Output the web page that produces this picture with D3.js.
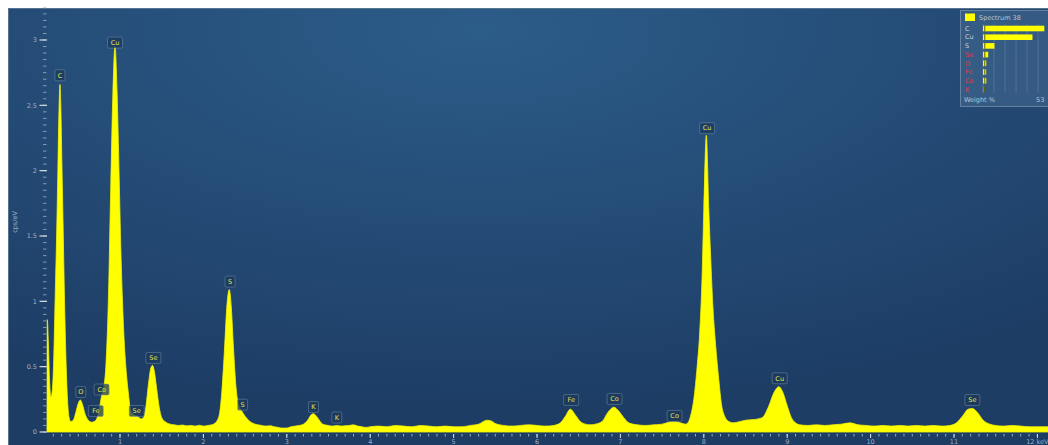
<!DOCTYPE html>
<html>
  <head>
    <meta charset="utf-8" />
    <title>EDS spectrum</title>
    <script src="https://d3js.org/d3.v7.min.js"></script>
    <style>
      body {
        margin: 0;
        background: #fff;
      }
      svg {
        display: block;
        font-family: "DejaVu Sans", sans-serif;
      }
      .tick-label {
        fill: #9fb1c4;
        font-size: 6.5px;
      }
      .peak-label text {
        fill: #e4e24a;
        font-size: 6.5px;
      }
      .legend text {
        font-size: 6.5px;
      }
    </style>
  </head>
  <body>
    <svg id="chart" width="1048" height="445"></svg>

    <script>
      // spectrum: [energy keV, cps/eV]
      const spectrum = [
        [0.125, 0], [0.128, 0.86], [0.14, 0.7], [0.155, 0.4], [0.17, 0.27],
        [0.185, 0.3], [0.205, 0.55], [0.225, 1.1], [0.24, 1.5], [0.255, 2.0],
        [0.27, 2.5], [0.28, 2.66], [0.29, 2.5], [0.305, 2.0], [0.32, 1.5],
        [0.335, 1.0], [0.355, 0.5], [0.375, 0.2], [0.39, 0.11], [0.41, 0.08],
        [0.44, 0.09], [0.47, 0.15], [0.5, 0.22], [0.525, 0.245], [0.55, 0.21],
        [0.58, 0.14], [0.62, 0.09], [0.66, 0.075], [0.69, 0.08], [0.72, 0.1],
        [0.75, 0.17], [0.78, 0.28], [0.81, 0.36], [0.83, 0.5], [0.86, 1.0],
        [0.89, 1.9], [0.915, 2.6], [0.94, 2.95], [0.965, 2.6], [0.99, 1.95],
        [1.01, 1.4], [1.03, 1.0], [1.05, 0.7], [1.07, 0.5], [1.1, 0.3],
        [1.13, 0.16], [1.17, 0.13], [1.21, 0.12], [1.25, 0.1], [1.28, 0.11],
        [1.31, 0.19], [1.34, 0.36], [1.37, 0.49], [1.39, 0.51], [1.41, 0.47],
        [1.44, 0.33], [1.47, 0.19], [1.5, 0.11], [1.55, 0.075], [1.6, 0.06],
        [1.65, 0.055], [1.7, 0.05], [1.75, 0.053], [1.8, 0.047], [1.85, 0.05],
        [1.9, 0.045], [1.95, 0.052], [2.0, 0.045], [2.05, 0.05], [2.1, 0.055],
        [2.15, 0.075], [2.19, 0.13], [2.22, 0.3], [2.25, 0.6], [2.28, 0.95],
        [2.31, 1.09], [2.335, 0.95], [2.36, 0.65], [2.39, 0.35], [2.42, 0.21],
        [2.46, 0.16], [2.5, 0.12], [2.55, 0.085], [2.6, 0.065], [2.65, 0.055],
        [2.7, 0.05], [2.75, 0.045], [2.8, 0.048], [2.85, 0.04], [2.9, 0.035],
        [2.95, 0.03], [3.0, 0.03], [3.05, 0.04], [3.1, 0.045], [3.15, 0.05],
        [3.2, 0.06], [3.25, 0.09], [3.29, 0.13], [3.32, 0.14], [3.35, 0.125],
        [3.39, 0.09], [3.43, 0.06], [3.5, 0.05], [3.55, 0.045], [3.6, 0.05],
        [3.65, 0.045], [3.7, 0.048], [3.75, 0.05], [3.8, 0.055], [3.85, 0.045],
        [3.9, 0.04], [3.95, 0.035], [4.0, 0.04], [4.1, 0.045], [4.2, 0.04],
        [4.3, 0.05], [4.4, 0.045], [4.5, 0.04], [4.6, 0.05], [4.7, 0.045],
        [4.8, 0.04], [4.9, 0.045], [5.0, 0.04], [5.1, 0.04], [5.2, 0.05],
        [5.3, 0.06], [5.4, 0.09], [5.45, 0.085], [5.5, 0.065], [5.6, 0.05],
        [5.7, 0.045], [5.8, 0.05], [5.9, 0.055], [6.0, 0.05], [6.1, 0.045],
        [6.2, 0.05], [6.28, 0.07], [6.34, 0.12], [6.4, 0.175], [6.46, 0.13],
        [6.52, 0.08], [6.58, 0.06], [6.64, 0.055], [6.7, 0.06], [6.78, 0.08],
        [6.85, 0.15], [6.92, 0.19], [6.98, 0.16], [7.04, 0.11], [7.1, 0.07],
        [7.2, 0.055], [7.3, 0.05], [7.4, 0.055], [7.5, 0.06], [7.58, 0.075],
        [7.65, 0.08], [7.72, 0.07], [7.78, 0.06], [7.81, 0.07], [7.84, 0.12],
        [7.88, 0.25], [7.92, 0.5], [7.95, 0.75], [7.98, 1.2], [8.0, 1.7],
        [8.03, 2.27], [8.06, 1.7], [8.085, 1.3], [8.11, 0.95], [8.14, 0.68],
        [8.18, 0.4], [8.21, 0.22], [8.25, 0.12], [8.3, 0.08], [8.35, 0.07],
        [8.4, 0.075], [8.5, 0.09], [8.6, 0.095], [8.7, 0.11], [8.78, 0.2],
        [8.84, 0.3], [8.9, 0.347], [8.95, 0.3], [9.0, 0.2], [9.05, 0.11],
        [9.1, 0.07], [9.15, 0.055], [9.25, 0.05], [9.35, 0.055], [9.45, 0.05],
        [9.55, 0.055], [9.65, 0.06], [9.75, 0.07], [9.85, 0.055], [9.95, 0.05],
        [10.05, 0.045], [10.15, 0.05], [10.25, 0.045], [10.35, 0.05], [10.45, 0.045],
        [10.55, 0.05], [10.65, 0.045], [10.75, 0.05], [10.85, 0.045], [10.95, 0.05],
        [11.03, 0.07], [11.1, 0.12], [11.17, 0.175], [11.22, 0.18], [11.28, 0.15],
        [11.35, 0.09], [11.43, 0.06], [11.5, 0.05], [11.6, 0.045], [11.7, 0.05],
        [11.8, 0.045], [11.9, 0.04], [12.0, 0.04], [12.15, 0.04]
      ];

      // peak labels: element, energy (keV), label height (cps/eV)
      const peakNames = ["C", "Cu", "O", "Fe", "Co", "Se", "Se", "S", "S", "K", "K",
                         "Fe", "Co", "Co", "Cu", "Cu", "Se"];
      const peakEnergies = [0.28, 0.94, 0.53, 0.71, 0.78, 1.2, 1.4, 2.32, 2.47, 3.32, 3.6,
                            6.41, 6.93, 7.65, 8.04, 8.91, 11.22];
      const peakLevels = [2.73, 2.98, 0.306, 0.161, 0.325, 0.161, 0.567, 1.151, 0.209, 0.191, 0.111,
                          0.245, 0.253, 0.123, 2.325, 0.411, 0.245];

      // axis ticks
      const xTickValues = [1, 2, 3, 4, 5, 6, 7, 8, 9, 10, 11, 12];
      const xTickLabels = ["1", "2", "3", "4", "5", "6", "7", "8", "9", "10", "11", "12 keV"];
      const yTickValues = [0, 0.5, 1, 1.5, 2, 2.5, 3];
      const yTickLabels = ["0", "0.5", "1", "1.5", "2", "2.5", "3"];

      // legend (weight %)
      const legendTitle = "Spectrum 38";
      const legendElements = ["C", "Cu", "S", "Se", "O", "Fe", "Co", "K"];
      const legendWeights = [44.5, 35.9, 8.3, 3.8, 2.4, 2.3, 2.4, 1.4];
      const legendRed = [false, false, false, true, true, true, true, true];

      const svg = d3.select("#chart");

      // scales
      const xScale = d3.scaleLinear().domain([0, 12]).range([36.6, 1037.4]);
      const yScale = d3.scaleLinear().domain([0, 3]).range([432, 40]);

      // background panel with a soft radial gradient
      const defs = svg.append("defs");
      const grad = defs
        .append("radialGradient")
        .attr("id", "bg")
        .attr("cx", "45%")
        .attr("cy", "5%")
        .attr("r", "85%");
      grad.append("stop").attr("offset", "0%").attr("stop-color", "#2c5c89");
      grad.append("stop").attr("offset", "100%").attr("stop-color", "#1d3d65");

      defs
        .append("filter")
        .attr("id", "soft")
        .append("feGaussianBlur")
        .attr("stdDeviation", 0.45);

      svg
        .append("rect")
        .attr("x", 8.5)
        .attr("y", 8.5)
        .attr("width", 1045)
        .attr("height", 445)
        .attr("fill", "url(#bg)")
        .attr("stroke", "#56738f")
        .attr("stroke-width", 1);

      // y ticks (minor every 0.05)
      const yMinor = d3.range(0, 3.3, 0.05);
      svg
        .append("g")
        .selectAll("line")
        .data(yMinor)
        .join("line")
        .attr("x1", 43)
        .attr("x2", 46.5)
        .attr("y1", (d) => yScale(d))
        .attr("y2", (d) => yScale(d))
        .attr("stroke", "#a9bccf")
        .attr("stroke-opacity", 0.7)
        .attr("stroke-width", 1);

      svg
        .append("g")
        .selectAll("line")
        .data(yTickValues)
        .join("line")
        .attr("x1", 39.5)
        .attr("x2", 47)
        .attr("y1", (d) => yScale(d))
        .attr("y2", (d) => yScale(d))
        .attr("stroke", "#d3dde7")
        .attr("stroke-width", 1.2);

      svg
        .append("g")
        .selectAll("text")
        .data(yTickValues)
        .join("text")
        .attr("class", "tick-label")
        .attr("x", 37)
        .attr("y", (d) => yScale(d))
        .attr("dy", "0.35em")
        .attr("text-anchor", "end")
        .text((d, i) => yTickLabels[i]);

      svg
        .append("text")
        .attr("class", "tick-label")
        .attr("transform", "translate(17,222) rotate(-90)")
        .attr("text-anchor", "middle")
        .text("cps/eV");

      // x ticks (minor every 0.1 keV)
      const xMinor = d3.range(0.2, 12.1, 0.1);
      svg
        .append("g")
        .selectAll("line")
        .data(xMinor)
        .join("line")
        .attr("x1", (d) => xScale(d))
        .attr("x2", (d) => xScale(d))
        .attr("y1", 434)
        .attr("y2", 436.5)
        .attr("stroke", "#b7c7d6")
        .attr("stroke-opacity", 0.8);

      svg
        .append("g")
        .selectAll("line")
        .data(xTickValues)
        .join("line")
        .attr("x1", (d) => xScale(d))
        .attr("x2", (d) => xScale(d))
        .attr("y1", 434)
        .attr("y2", 438)
        .attr("stroke", "#d3dde7");

      svg
        .append("g")
        .selectAll("text")
        .data(xTickValues)
        .join("text")
        .attr("class", "tick-label")
        .attr("x", (d) => xScale(d))
        .attr("y", 444)
        .attr("text-anchor", "middle")
        .text((d, i) => xTickLabels[i]);

      // the spectrum itself
      const area = d3
        .area()
        .x((d) => xScale(d[0]))
        .y0(yScale(0))
        .y1((d) => yScale(d[1]))
        .curve(d3.curveMonotoneX);

      svg
        .append("path")
        .datum(spectrum)
        .attr("d", area)
        .attr("fill", "#ffff00")
        .attr("stroke", "#f4f400")
        .attr("stroke-width", 0.8)
        .attr("filter", "url(#soft)");

      // peak labels
      const labels = svg
        .append("g")
        .selectAll("g.peak-label")
        .data(peakNames)
        .join("g")
        .attr("class", "peak-label")
        .attr(
          "transform",
          (d, i) => `translate(${xScale(peakEnergies[i])},${yScale(peakLevels[i])})`
        );

      labels
        .append("rect")
        .attr("x", (d) => (d.length > 1 ? -7.5 : -5))
        .attr("y", -5.5)
        .attr("width", (d) => (d.length > 1 ? 15 : 10))
        .attr("height", 11)
        .attr("rx", 1.5)
        .attr("fill", "#1b3a5c")
        .attr("fill-opacity", 0.75)
        .attr("stroke", "#7f95aa")
        .attr("stroke-opacity", 0.6)
        .attr("stroke-width", 0.8);

      labels
        .append("text")
        .attr("text-anchor", "middle")
        .attr("dy", "0.35em")
        .text((d) => d);

      // legend box
      const legend = svg.append("g").attr("class", "legend");
      const wScale = d3.scaleLinear().domain([0, 45]).range([983, 1045]);

      legend
        .append("rect")
        .attr("x", 960.5)
        .attr("y", 10.5)
        .attr("width", 100)
        .attr("height", 96)
        .attr("fill", "#5a7fa3")
        .attr("fill-opacity", 0.35)
        .attr("stroke", "#8aa2ba")
        .attr("stroke-opacity", 0.6);

      legend
        .selectAll("line.grid")
        .data(d3.range(0, 50, 8))
        .join("line")
        .attr("class", "grid")
        .attr("x1", (d) => wScale(d))
        .attr("x2", (d) => wScale(d))
        .attr("y1", 24)
        .attr("y2", 93)
        .attr("stroke", "#9fb3c7")
        .attr("stroke-opacity", 0.25);

      legend
        .append("rect")
        .attr("x", 965)
        .attr("y", 13.5)
        .attr("width", 10)
        .attr("height", 7.5)
        .attr("fill", "#ffff00");

      legend
        .append("text")
        .attr("x", 979)
        .attr("y", 19.5)
        .attr("fill", "#b9c6d3")
        .text(legendTitle);

      const rowY = (i) => 28.5 + i * 8.7;

      legend
        .selectAll("text.el")
        .data(legendElements)
        .join("text")
        .attr("class", "el")
        .attr("x", 965)
        .attr("y", (d, i) => rowY(i))
        .attr("dy", "0.35em")
        .attr("fill", (d, i) => (legendRed[i] ? "#e23a3a" : "#c3ced9"))
        .text((d) => d);

      legend
        .selectAll("rect.bar")
        .data(legendWeights)
        .join("rect")
        .attr("class", "bar")
        .attr("x", wScale(0))
        .attr("y", (d, i) => rowY(i) - 2.8)
        .attr("width", (d) => wScale(d) - wScale(0))
        .attr("height", 5.6)
        .attr("fill", (d, i) => (i === legendWeights.length - 1 ? "#8a8a2a" : "#ffff00"));

      legend
        .selectAll("line.err")
        .data(legendWeights)
        .join("line")
        .attr("class", "err")
        .attr("x1", wScale(1.3))
        .attr("x2", wScale(1.3))
        .attr("y1", (d, i) => rowY(i) - 2.8)
        .attr("y2", (d, i) => rowY(i) + 2.8)
        .attr("stroke", "#4a4a20")
        .attr("stroke-width", 0.9);

      legend
        .append("text")
        .attr("x", 964)
        .attr("y", 102)
        .attr("fill", "#b9c6d3")
        .text("Weight %");

      legend
        .append("text")
        .attr("x", 1036)
        .attr("y", 102)
        .attr("fill", "#b9c6d3")
        .text("53");
    </script>
  </body>
</html>
